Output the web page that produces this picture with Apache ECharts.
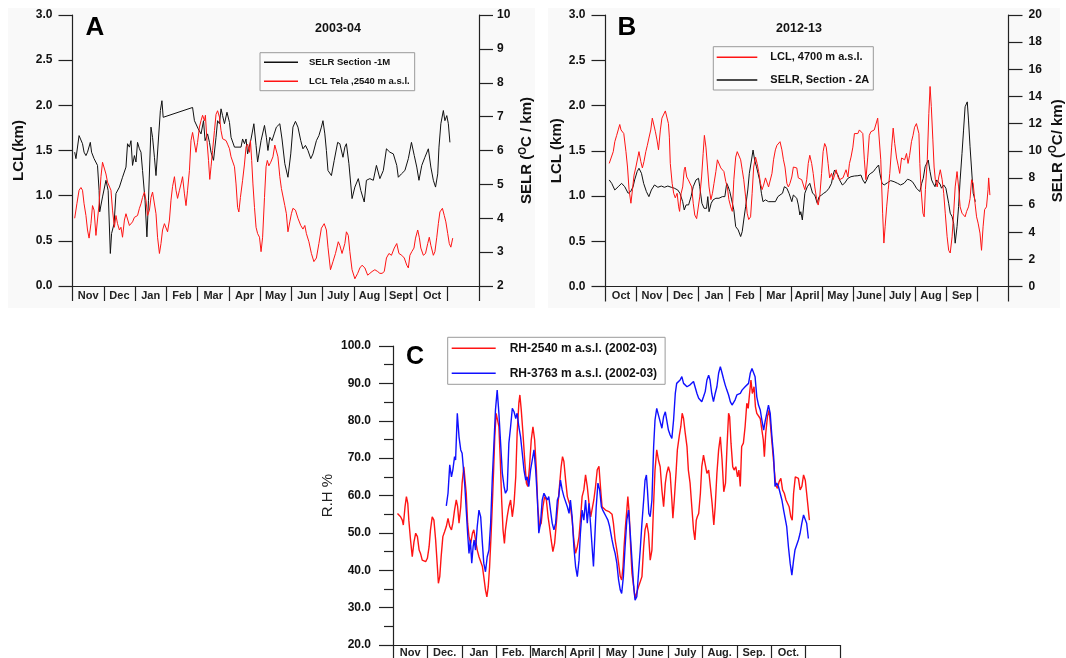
<!DOCTYPE html>
<html>
<head>
<meta charset="utf-8" />
<title>LCL / SELR / RH</title>
<script src="https://cdn.jsdelivr.net/npm/echarts/dist/echarts.min.js"></script>
<style>
  html, body { margin: 0; padding: 0; background: #ffffff; }
  #chart { width: 1066px; height: 658px; }
</style>
</head>
<body>
<div id="chart"></div>
<script>
// month labels for the three panels (last slot is empty)
const monthsA = ["Nov", "Dec", "Jan", "Feb", "Mar", "Apr", "May", "Jun", "July", "Aug", "Sept", "Oct", ""];
const monthsB = ["Oct", "Nov", "Dec", "Jan", "Feb", "Mar", "April", "May", "June", "July", "Aug", "Sep", ""];
const monthsC = ["Nov", "Dec.", "Jan", "Feb.", "March", "April", "May", "June", "July", "Aug.", "Sep.", "Oct.", ""];

// x = months since start of season, y = value
// panel A (2003-04): SELR in degC/km, LCL in km
const selrA = [[0.07,5.95],[0.11,5.76],[0.21,6.44],[0.32,6.20],[0.37,5.95],[0.43,5.85],[0.48,5.95],[0.57,6.24],[0.61,5.95],[0.69,5.76],[0.80,5.56],[0.85,4.82],[0.87,4.19],[0.96,4.63],[1.07,5.12],[1.14,4.82],[1.21,2.96],[1.25,3.55],[1.33,3.84],[1.39,4.73],[1.50,4.92],[1.60,5.21],[1.71,5.51],[1.76,6.20],[1.82,6.10],[1.87,6.29],[1.92,5.56],[1.98,5.85],[2.03,5.66],[2.08,6.24],[2.14,6.05],[2.19,5.95],[2.24,5.41],[2.32,4.53],[2.38,3.45],[2.43,4.53],[2.51,6.69],[2.56,6.39],[2.62,5.80],[2.67,5.26],[2.72,5.21],[2.81,7.18],[2.86,7.47],[2.90,6.98],[3.84,7.27],[3.90,6.88],[4.02,6.64],[4.11,6.49],[4.19,6.88],[4.24,6.29],[4.32,6.49],[4.38,6.24],[4.43,5.95],[4.51,5.71],[4.59,6.39],[4.64,6.88],[4.70,6.79],[4.75,7.23],[4.80,7.03],[4.86,6.79],[4.94,7.13],[5.02,6.83],[5.07,6.39],[5.18,6.10],[5.39,6.10],[5.44,6.34],[5.50,6.20],[5.55,6.34],[5.60,5.90],[5.71,6.34],[5.80,6.79],[5.87,6.15],[5.92,5.66],[6.03,6.29],[6.14,6.74],[6.20,6.39],[6.25,6.00],[6.31,6.39],[6.38,6.29],[6.45,6.49],[6.52,6.69],[6.63,6.79],[6.70,6.34],[6.79,5.61],[6.89,5.21],[6.98,5.90],[7.05,6.69],[7.13,6.86],[7.21,6.69],[7.30,6.29],[7.37,6.05],[7.45,6.15],[7.53,6.00],[7.62,5.76],[7.69,5.90],[7.80,6.29],[7.88,6.44],[7.96,6.69],[8.01,6.88],[8.07,6.49],[8.12,6.00],[8.17,5.41],[8.28,5.26],[8.37,5.71],[8.48,6.24],[8.55,6.20],[8.65,5.80],[8.71,6.10],[8.76,6.20],[8.84,5.61],[8.94,4.58],[9.03,4.92],[9.14,5.17],[9.22,4.82],[9.33,4.48],[9.40,5.12],[9.51,5.17],[9.62,5.12],[9.72,5.56],[9.83,5.17],[9.94,5.41],[10.04,6.05],[10.15,5.95],[10.26,5.90],[10.37,5.56],[10.42,5.21],[10.52,5.31],[10.63,5.41],[10.74,5.76],[10.84,6.24],[10.93,5.85],[11.01,5.51],[11.08,5.12],[11.17,5.56],[11.27,5.80],[11.38,6.05],[11.46,5.51],[11.54,5.12],[11.61,4.92],[11.68,5.31],[11.72,6.10],[11.78,6.79],[11.86,7.18],[11.91,6.88],[11.97,7.03],[12.02,6.79],[12.07,6.24]];
const lclA = [[0.07,0.75],[0.14,0.91],[0.21,1.06],[0.27,1.09],[0.32,1.06],[0.37,0.91],[0.43,0.78],[0.48,0.62],[0.53,0.53],[0.59,0.69],[0.64,0.89],[0.69,0.84],[0.75,0.56],[0.80,0.58],[0.85,0.91],[0.91,1.21],[0.96,1.37],[1.02,1.39],[1.07,1.24],[1.12,1.15],[1.18,1.17],[1.23,1.06],[1.28,0.84],[1.34,0.65],[1.39,0.78],[1.44,0.69],[1.50,0.62],[1.55,0.65],[1.60,0.54],[1.66,0.73],[1.71,0.80],[1.76,0.80],[1.82,0.67],[1.87,0.69],[1.92,0.71],[1.98,0.76],[2.03,0.76],[2.08,0.78],[2.14,0.86],[2.19,0.91],[2.24,0.98],[2.30,1.04],[2.35,0.95],[2.40,0.78],[2.46,0.84],[2.51,0.98],[2.56,1.04],[2.62,1.02],[2.67,0.80],[2.72,0.54],[2.78,0.36],[2.83,0.47],[2.88,0.62],[2.94,0.69],[2.99,0.67],[3.04,0.60],[3.10,0.73],[3.15,0.95],[3.20,1.10],[3.26,1.21],[3.31,1.06],[3.36,0.97],[3.42,1.06],[3.47,1.13],[3.52,1.21],[3.58,1.02],[3.63,0.89],[3.68,1.06],[3.74,1.28],[3.79,1.61],[3.84,1.70],[3.90,1.70],[3.95,1.48],[4.00,1.59],[4.06,1.76],[4.11,1.83],[4.16,1.89],[4.22,1.83],[4.25,1.89],[4.30,1.61],[4.35,1.39],[4.39,1.18],[4.43,1.32],[4.48,1.50],[4.54,1.72],[4.59,1.90],[4.64,1.94],[4.70,1.87],[4.75,1.72],[4.80,1.63],[4.86,1.63],[4.91,1.61],[4.96,1.57],[5.02,1.52],[5.07,1.43],[5.12,1.41],[5.18,1.32],[5.23,1.13],[5.28,0.87],[5.32,0.82],[5.37,0.98],[5.44,1.17],[5.50,1.35],[5.55,1.54],[5.60,1.57],[5.66,1.48],[5.69,1.61],[5.73,1.39],[5.77,1.13],[5.82,0.87],[5.87,0.65],[5.92,0.58],[5.98,0.54],[6.03,0.38],[6.08,0.54],[6.14,0.98],[6.19,1.32],[6.23,1.39],[6.28,1.33],[6.34,1.37],[6.41,1.43],[6.47,1.56],[6.52,1.57],[6.57,1.43],[6.63,1.21],[6.68,1.08],[6.73,1.06],[6.79,0.89],[6.84,0.80],[6.89,0.60],[6.95,0.71],[7.00,0.80],[7.05,0.86],[7.13,0.84],[7.21,0.75],[7.30,0.67],[7.37,0.63],[7.43,0.67],[7.48,0.58],[7.56,0.49],[7.64,0.36],[7.72,0.27],[7.80,0.31],[7.88,0.47],[7.96,0.64],[8.05,0.69],[8.12,0.62],[8.17,0.43],[8.25,0.18],[8.33,0.27],[8.41,0.36],[8.50,0.49],[8.55,0.45],[8.62,0.36],[8.71,0.47],[8.76,0.60],[8.82,0.56],[8.87,0.38],[8.94,0.18],[9.03,0.08],[9.12,0.14],[9.19,0.20],[9.26,0.23],[9.35,0.20],[9.44,0.12],[9.51,0.14],[9.58,0.16],[9.67,0.18],[9.76,0.16],[9.83,0.14],[9.90,0.14],[9.97,0.16],[10.04,0.31],[10.12,0.36],[10.20,0.34],[10.29,0.42],[10.37,0.47],[10.44,0.36],[10.53,0.34],[10.61,0.31],[10.69,0.23],[10.74,0.20],[10.79,0.34],[10.85,0.38],[10.92,0.42],[10.97,0.53],[11.04,0.62],[11.09,0.54],[11.14,0.42],[11.22,0.34],[11.29,0.36],[11.36,0.47],[11.41,0.54],[11.46,0.45],[11.54,0.34],[11.59,0.38],[11.65,0.54],[11.70,0.69],[11.75,0.82],[11.83,0.86],[11.89,0.78],[11.94,0.71],[12.00,0.58],[12.05,0.47],[12.10,0.43],[12.16,0.53]];

// panel B (2012-13)
const lclB = [[0.12,1.36],[0.18,1.42],[0.25,1.49],[0.30,1.60],[0.36,1.67],[0.41,1.73],[0.46,1.79],[0.50,1.73],[0.55,1.73],[0.59,1.69],[0.66,1.49],[0.71,1.32],[0.76,1.07],[0.82,0.92],[0.87,1.07],[0.92,1.23],[0.98,1.32],[1.03,1.32],[1.08,1.49],[1.14,1.38],[1.19,1.31],[1.24,1.38],[1.30,1.49],[1.35,1.56],[1.40,1.64],[1.46,1.73],[1.51,1.86],[1.55,1.88],[1.61,1.71],[1.66,1.62],[1.71,1.51],[1.77,1.73],[1.82,1.86],[1.87,1.88],[1.93,1.94],[1.98,1.93],[2.03,1.80],[2.06,1.65],[2.09,1.36],[2.15,1.14],[2.20,1.03],[2.25,0.98],[2.31,1.03],[2.36,0.88],[2.39,0.83],[2.44,1.03],[2.49,1.10],[2.54,1.29],[2.57,1.32],[2.62,1.21],[2.67,1.18],[2.72,1.20],[2.78,1.10],[2.83,0.92],[2.88,0.79],[2.94,0.75],[2.99,0.75],[3.04,0.99],[3.10,1.21],[3.15,1.47],[3.19,1.67],[3.24,1.54],[3.29,1.32],[3.34,1.10],[3.40,0.96],[3.45,1.03],[3.50,1.14],[3.56,1.27],[3.61,1.40],[3.66,1.42],[3.72,1.31],[3.77,1.32],[3.82,1.27],[3.88,1.16],[3.93,1.10],[3.98,0.96],[4.04,0.88],[4.09,0.83],[4.14,1.18],[4.20,1.43],[4.25,1.49],[4.30,1.49],[4.36,1.40],[4.41,1.29],[4.46,1.18],[4.52,0.99],[4.57,0.81],[4.62,0.74],[4.68,0.77],[4.73,1.03],[4.78,1.32],[4.84,1.43],[4.89,1.36],[4.94,1.27],[5.00,1.14],[5.05,1.07],[5.10,1.12],[5.16,1.20],[5.21,1.20],[5.26,1.10],[5.32,1.09],[5.37,1.25],[5.42,1.40],[5.48,1.51],[5.53,1.56],[5.58,1.56],[5.63,1.60],[5.69,1.51],[5.74,1.40],[5.79,1.32],[5.85,1.14],[5.90,1.10],[5.95,1.14],[6.01,1.21],[6.06,1.32],[6.11,1.34],[6.17,1.31],[6.22,1.20],[6.27,1.21],[6.33,1.18],[6.38,1.18],[6.43,1.07],[6.49,1.18],[6.54,1.36],[6.59,1.45],[6.65,1.36],[6.70,1.25],[6.75,1.10],[6.81,0.97],[6.86,0.90],[6.91,0.99],[6.97,1.25],[7.02,1.49],[7.07,1.58],[7.12,1.54],[7.18,1.36],[7.23,1.20],[7.29,1.25],[7.34,1.18],[7.39,1.23],[7.44,1.29],[7.50,1.21],[7.55,1.18],[7.60,1.16],[7.66,1.20],[7.71,1.21],[7.76,1.29],[7.82,1.21],[7.87,1.36],[7.92,1.43],[7.98,1.54],[8.03,1.69],[8.09,1.69],[8.14,1.69],[8.19,1.73],[8.24,1.75],[8.30,1.69],[8.35,1.40],[8.40,1.18],[8.46,1.43],[8.51,1.67],[8.56,1.71],[8.62,1.71],[8.67,1.73],[8.72,1.73],[8.78,1.86],[8.83,1.84],[8.88,1.40],[8.94,0.81],[8.98,0.48],[9.02,0.66],[9.07,0.88],[9.12,1.07],[9.17,1.25],[9.23,1.54],[9.28,1.75],[9.33,1.58],[9.39,1.42],[9.44,1.34],[9.49,1.25],[9.55,1.42],[9.60,1.43],[9.65,1.40],[9.71,1.47],[9.76,1.36],[9.81,1.45],[9.87,1.60],[9.92,1.67],[9.97,1.76],[10.03,1.80],[10.08,1.82],[10.11,1.69],[10.14,1.36],[10.18,1.07],[10.24,0.81],[10.28,0.77],[10.32,1.07],[10.38,1.40],[10.43,1.91],[10.47,2.21],[10.51,1.99],[10.56,1.62],[10.60,1.32],[10.64,1.18],[10.70,1.10],[10.75,1.21],[10.80,1.29],[10.86,1.18],[10.91,1.03],[10.96,0.81],[11.02,0.55],[11.07,0.40],[11.12,0.37],[11.18,0.55],[11.23,0.81],[11.28,1.10],[11.34,1.27],[11.39,1.10],[11.44,0.88],[11.50,0.81],[11.55,0.83],[11.60,0.77],[11.65,0.83],[11.71,0.88],[11.76,0.97],[11.81,1.18],[11.86,1.14],[11.92,0.92],[11.97,0.77],[12.02,0.70],[12.08,0.59],[12.13,0.40],[12.18,0.66],[12.23,0.85],[12.29,0.88],[12.34,1.07],[12.36,1.20],[12.40,1.01]];
const selrB = [[0.12,7.85],[0.20,7.60],[0.30,7.11],[0.41,7.35],[0.52,7.60],[0.62,7.35],[0.73,6.87],[0.81,6.99],[0.89,7.35],[0.94,7.85],[1.02,8.46],[1.08,8.71],[1.16,8.34],[1.23,7.60],[1.32,6.99],[1.40,6.62],[1.48,7.11],[1.58,7.48],[1.69,7.31],[1.80,7.40],[1.90,7.31],[2.01,7.40],[2.12,7.31],[2.22,7.24],[2.33,7.11],[2.40,6.87],[2.49,6.25],[2.54,5.64],[2.60,6.01],[2.68,6.01],[2.76,6.62],[2.83,7.35],[2.92,7.85],[3.00,7.97],[3.04,7.35],[3.11,6.13],[3.18,5.76],[3.26,5.76],[3.30,6.62],[3.34,5.51],[3.41,6.13],[3.47,6.38],[3.56,6.50],[3.66,6.50],[3.77,6.62],[3.85,6.62],[3.91,7.60],[3.96,7.35],[4.01,6.99],[4.07,6.38],[4.14,5.64],[4.20,4.41],[4.28,4.17],[4.36,3.68],[4.41,4.04],[4.46,4.90],[4.52,5.88],[4.59,7.11],[4.64,8.34],[4.71,9.32],[4.76,10.05],[4.81,9.32],[4.87,8.82],[4.92,8.34],[4.97,7.85],[5.03,6.87],[5.08,6.25],[5.16,6.38],[5.26,6.25],[5.37,6.25],[5.48,6.25],[5.56,6.62],[5.63,6.74],[5.71,6.87],[5.77,7.35],[5.85,7.24],[5.92,6.87],[6.01,6.25],[6.06,6.74],[6.11,6.87],[6.17,6.50],[6.22,6.01],[6.27,5.27],[6.30,5.51],[6.35,4.90],[6.43,6.87],[6.51,7.35],[6.59,7.60],[6.68,6.87],[6.75,6.74],[6.83,6.13],[6.89,6.62],[6.97,6.74],[7.04,6.87],[7.12,6.99],[7.21,7.24],[7.29,7.60],[7.34,8.21],[7.39,8.58],[7.44,8.71],[7.50,8.21],[7.55,7.85],[7.64,7.48],[7.71,7.60],[7.82,7.97],[7.92,8.09],[8.03,8.14],[8.14,8.16],[8.24,8.21],[8.30,7.85],[8.37,7.60],[8.43,7.85],[8.49,8.21],[8.56,8.34],[8.64,8.46],[8.72,8.71],[8.81,8.95],[8.85,8.34],[8.92,7.60],[8.99,7.48],[9.10,7.65],[9.20,7.80],[9.31,7.72],[9.42,7.60],[9.52,7.48],[9.58,7.35],[9.63,7.60],[9.74,7.90],[9.81,7.85],[9.90,7.72],[9.97,7.48],[10.03,7.24],[10.09,7.35],[10.14,6.99],[10.20,7.60],[10.25,7.97],[10.31,8.82],[10.36,8.95],[10.41,9.32],[10.47,8.46],[10.52,7.85],[10.57,7.60],[10.63,7.35],[10.68,7.85],[10.73,7.72],[10.79,7.55],[10.84,7.24],[10.91,7.48],[10.98,7.24],[11.03,7.35],[11.07,6.13],[11.12,5.40],[11.18,5.15],[11.23,4.66],[11.28,3.19],[11.34,4.41],[11.39,5.88],[11.44,7.85],[11.50,9.81],[11.55,11.52],[11.60,13.24],[11.67,13.60],[11.71,12.26],[11.76,10.29],[11.81,8.58],[11.86,6.87],[11.89,6.62],[11.93,6.25]];

// panel C (2002-03): relative humidity %
const rh2540 = [[0.13,55.2],[0.17,54.8],[0.22,54.3],[0.27,53.4],[0.30,52.1],[0.35,57.0],[0.39,59.7],[0.43,57.9],[0.46,53.4],[0.51,48.1],[0.56,43.6],[0.61,47.6],[0.66,49.9],[0.71,49.0],[0.76,45.4],[0.80,44.5],[0.85,42.7],[0.90,42.3],[0.95,42.3],[1.00,43.2],[1.05,46.3],[1.09,50.8],[1.14,54.3],[1.19,53.4],[1.24,48.1],[1.29,41.0],[1.32,36.5],[1.36,38.3],[1.40,43.6],[1.45,49.0],[1.50,50.3],[1.55,51.7],[1.60,53.9],[1.65,51.7],[1.70,50.8],[1.74,52.6],[1.79,56.1],[1.84,58.8],[1.88,57.0],[1.92,52.6],[1.97,57.0],[2.01,63.3],[2.06,67.7],[2.09,68.2],[2.13,60.6],[2.17,52.6],[2.21,49.0],[2.26,47.2],[2.31,49.9],[2.35,50.8],[2.40,48.1],[2.45,45.4],[2.50,43.6],[2.55,43.2],[2.60,41.0],[2.64,38.3],[2.69,34.7],[2.73,32.9],[2.77,35.6],[2.81,41.0],[2.85,49.0],[2.89,57.9],[2.93,67.7],[2.96,75.7],[3.00,82.0],[3.04,82.0],[3.08,78.4],[3.12,69.5],[3.16,58.8],[3.20,50.8],[3.24,47.2],[3.27,50.8],[3.32,54.3],[3.37,57.0],[3.42,58.8],[3.47,54.3],[3.52,57.9],[3.57,65.0],[3.61,76.6],[3.66,84.7],[3.69,86.9],[3.73,82.9],[3.78,76.6],[3.83,69.5],[3.88,63.3],[3.92,62.4],[3.97,67.7],[4.02,74.8],[4.07,78.4],[4.12,74.8],[4.17,66.8],[4.21,57.0],[4.26,51.7],[4.31,52.6],[4.36,57.0],[4.41,59.7],[4.46,58.8],[4.51,54.3],[4.55,51.7],[4.60,48.1],[4.65,45.0],[4.70,47.2],[4.75,52.6],[4.80,57.9],[4.84,62.4],[4.89,67.7],[4.93,70.4],[4.97,69.1],[5.02,64.1],[5.07,59.7],[5.12,59.7],[5.16,57.0],[5.21,53.4],[5.26,48.1],[5.31,44.5],[5.36,46.3],[5.41,49.0],[5.45,53.4],[5.50,59.7],[5.55,61.5],[5.60,65.5],[5.65,62.4],[5.70,57.9],[5.75,54.3],[5.79,54.3],[5.84,58.8],[5.89,62.4],[5.94,66.9],[5.99,67.8],[6.04,61.5],[6.08,57.0],[6.18,56.1],[6.28,55.7],[6.32,55.2],[6.37,55.0],[6.41,52.6],[6.46,48.1],[6.51,45.4],[6.56,41.9],[6.61,38.3],[6.65,37.4],[6.69,41.0],[6.72,46.3],[6.76,51.7],[6.80,56.1],[6.83,59.7],[6.87,55.2],[6.91,46.3],[6.95,39.2],[7.00,35.6],[7.04,32.5],[7.09,32.0],[7.14,35.6],[7.19,36.9],[7.24,38.3],[7.29,46.3],[7.33,50.8],[7.38,52.6],[7.43,49.9],[7.48,42.7],[7.53,45.4],[7.58,57.9],[7.62,66.8],[7.67,72.2],[7.72,69.5],[7.77,67.7],[7.82,61.5],[7.87,57.0],[7.92,63.3],[7.96,65.9],[8.01,67.7],[8.06,65.9],[8.11,58.8],[8.14,53.9],[8.18,58.8],[8.23,65.9],[8.27,72.2],[8.33,76.2],[8.37,78.4],[8.41,82.0],[8.45,80.6],[8.50,76.6],[8.55,73.1],[8.59,66.8],[8.64,63.3],[8.69,57.0],[8.74,50.8],[8.78,48.1],[8.82,53.4],[8.85,54.3],[8.89,55.2],[8.94,60.6],[8.98,67.7],[9.03,70.8],[9.08,70.4],[9.13,65.9],[9.18,66.8],[9.23,62.4],[9.28,57.9],[9.33,52.1],[9.37,57.0],[9.42,65.9],[9.47,72.2],[9.52,75.7],[9.57,69.5],[9.62,61.0],[9.67,63.3],[9.71,72.2],[9.76,82.0],[9.79,81.1],[9.83,74.0],[9.88,67.7],[9.92,66.8],[9.97,67.7],[10.02,65.0],[10.06,66.8],[10.10,62.4],[10.14,73.1],[10.19,74.0],[10.24,78.4],[10.29,84.7],[10.33,83.3],[10.37,87.3],[10.41,90.9],[10.45,87.3],[10.50,89.1],[10.54,83.8],[10.58,82.0],[10.63,82.4],[10.68,80.6],[10.72,80.2],[10.77,74.8],[10.80,70.4],[10.84,76.6],[10.89,81.1],[10.94,82.9],[10.99,77.5],[11.04,72.2],[11.09,66.8],[11.13,62.8],[11.18,61.9],[11.23,63.7],[11.28,64.6],[11.33,61.5],[11.38,60.6],[11.43,58.8],[11.47,58.8],[11.52,57.0],[11.57,54.3],[11.61,53.4],[11.65,60.6],[11.70,65.0],[11.74,65.5],[11.79,64.6],[11.84,61.5],[11.89,62.4],[11.94,65.5],[11.99,64.1],[12.03,60.6],[12.08,56.1],[12.11,53.4]];
const rh3763 = [[1.55,57.2],[1.60,60.6],[1.65,68.2],[1.70,65.0],[1.74,66.8],[1.79,70.4],[1.82,69.5],[1.87,82.0],[1.92,75.7],[1.97,72.2],[2.01,71.3],[2.06,65.9],[2.09,62.4],[2.13,56.1],[2.17,49.9],[2.21,44.5],[2.25,48.1],[2.29,41.9],[2.33,46.3],[2.36,48.1],[2.40,45.4],[2.45,51.7],[2.50,56.1],[2.55,54.3],[2.60,47.2],[2.64,41.9],[2.69,39.6],[2.74,43.6],[2.79,45.4],[2.84,52.6],[2.89,65.0],[2.94,74.8],[2.98,82.9],[3.03,88.2],[3.08,82.0],[3.13,73.9],[3.18,65.9],[3.23,62.4],[3.27,60.6],[3.32,61.5],[3.37,74.0],[3.42,78.4],[3.47,83.3],[3.52,82.4],[3.57,80.6],[3.61,82.0],[3.66,78.4],[3.71,75.7],[3.76,71.3],[3.81,66.8],[3.86,64.1],[3.90,65.0],[3.95,62.4],[4.00,66.8],[4.05,69.5],[4.10,72.2],[4.15,66.8],[4.20,58.8],[4.24,49.9],[4.29,52.6],[4.34,58.8],[4.39,60.6],[4.44,61.0],[4.49,58.8],[4.53,59.7],[4.58,56.1],[4.63,52.6],[4.68,50.8],[4.73,52.6],[4.78,58.8],[4.82,59.7],[4.87,64.1],[4.92,61.5],[4.97,59.7],[5.02,59.7],[5.07,57.0],[5.12,55.2],[5.16,58.8],[5.21,54.3],[5.26,46.3],[5.31,41.0],[5.36,38.3],[5.41,42.7],[5.45,49.9],[5.50,56.1],[5.55,53.4],[5.60,58.8],[5.65,52.6],[5.70,57.9],[5.75,51.7],[5.79,46.3],[5.83,41.0],[5.87,49.0],[5.91,57.0],[5.96,63.3],[6.01,61.5],[6.06,57.0],[6.10,56.1],[6.15,56.1],[6.20,54.3],[6.25,53.4],[6.30,51.7],[6.37,48.1],[6.41,46.3],[6.46,44.5],[6.51,41.9],[6.56,37.4],[6.61,34.7],[6.65,33.8],[6.70,38.3],[6.75,46.3],[6.80,53.4],[6.85,56.1],[6.90,49.9],[6.95,42.7],[7.00,35.6],[7.04,32.0],[7.09,32.9],[7.14,39.2],[7.19,45.4],[7.24,52.6],[7.29,58.8],[7.33,64.1],[7.37,65.5],[7.40,61.5],[7.44,55.2],[7.48,54.3],[7.53,58.8],[7.58,73.1],[7.62,80.2],[7.67,83.3],[7.72,81.5],[7.77,82.0],[7.82,78.0],[7.87,81.1],[7.92,82.4],[7.96,82.0],[8.01,77.5],[8.06,76.2],[8.11,75.3],[8.16,80.2],[8.21,87.3],[8.25,90.0],[8.30,90.5],[8.35,90.9],[8.40,91.8],[8.45,90.0],[8.50,89.6],[8.55,89.1],[8.59,88.7],[8.64,89.6],[8.69,90.0],[8.74,90.5],[8.79,90.0],[8.84,87.3],[8.89,86.0],[8.93,85.6],[8.98,85.1],[9.03,86.4],[9.08,87.8],[9.13,90.9],[9.18,92.2],[9.22,90.9],[9.27,87.3],[9.32,85.1],[9.37,87.3],[9.42,89.1],[9.47,92.7],[9.52,94.5],[9.56,93.1],[9.61,91.3],[9.66,89.6],[9.71,88.2],[9.76,86.9],[9.81,85.1],[9.86,84.2],[9.90,84.2],[9.95,85.6],[10.00,86.9],[10.05,86.4],[10.10,87.3],[10.15,88.2],[10.19,88.2],[10.24,89.1],[10.29,88.7],[10.34,90.0],[10.39,92.7],[10.44,94.0],[10.48,94.5],[10.53,91.8],[10.58,86.4],[10.63,84.2],[10.68,82.9],[10.72,80.6],[10.78,77.5],[10.82,79.7],[10.87,82.0],[10.92,84.2],[10.97,82.0],[11.02,75.7],[11.07,70.4],[11.11,62.4],[11.16,63.3],[11.21,62.4],[11.26,60.6],[11.31,58.8],[11.36,56.1],[11.41,55.7],[11.45,51.7],[11.50,46.3],[11.55,41.9],[11.60,38.7],[11.65,42.7],[11.69,45.4],[11.74,45.0],[11.79,48.1],[11.84,49.9],[11.89,52.6],[11.94,54.8],[11.99,54.3],[12.03,52.6],[12.08,48.5]];

const FONT = "Liberation Sans, Arial, sans-serif";
const RED = "#ff1414";
const BLACK = "#111111";
const BLUE = "#1010ff";

// hidden value axis carrying the data, month axis carrying labels
function dataX(grid) {
  return { type: "value", gridIndex: grid, min: 0, max: 13, show: false };
}
function monthX(grid, months, fs, margin, tickLen) {
  return {
    type: "category",
    gridIndex: grid,
    data: months,
    position: "bottom",
    boundaryGap: true,
    axisLine: { show: true, lineStyle: { color: "#222", width: 1.2 } },
    axisTick: { show: true, interval: 0, length: tickLen, lineStyle: { color: "#222", width: 1.2 } },
    axisLabel: { interval: 0, margin: margin, fontSize: fs, fontWeight: "bold", fontFamily: FONT, color: "#222" },
    splitLine: { show: false },
  };
}
function valY(grid, pos, min, max, step, decimals, name, gap, labelMargin, rich) {
  return {
    type: "value",
    gridIndex: grid,
    position: pos,
    min: min,
    max: max,
    interval: step,
    name: name,
    nameLocation: "middle",
    nameRotate: 90,
    nameGap: gap,
    nameTextStyle: rich,
    axisLine: { show: true, lineStyle: { color: "#222", width: 1.2 } },
    axisTick: { show: true, length: 14, lineStyle: { color: "#222", width: 1.2 } },
    axisLabel: {
      margin: labelMargin,
      fontSize: 12,
      fontWeight: "bold",
      fontFamily: FONT,
      color: "#111",
      showMinLabel: true,
      showMaxLabel: true,
      formatter: (v) => v.toFixed(decimals),
    },
    splitLine: { show: false },
  };
}

const nameBold = { fontSize: 15, fontWeight: "bold", fontFamily: FONT, color: "#111" };
const selrRich = {
  fontSize: 15, fontWeight: "bold", fontFamily: FONT, color: "#111",
  rich: {
    t: { fontSize: 15, fontWeight: "bold", fontFamily: FONT, color: "#111", lineHeight: 18 },
    s: { fontSize: 10, fontWeight: "bold", fontFamily: FONT, color: "#111", lineHeight: 18, verticalAlign: "top" },
  },
};

function line(name, data, xi, yi, color, w) {
  return {
    name: name,
    type: "line",
    xAxisIndex: xi,
    yAxisIndex: yi,
    data: data,
    symbol: "none",
    lineStyle: { color: color, width: w },
    itemStyle: { color: color },
  };
}

function legendBox(names, left, top, fs, lh, gap, iconW, textPad, pad, bg) {
  return {
    data: names,
    orient: "vertical",
    left: left,
    top: top,
    padding: pad,
    itemGap: gap,
    itemWidth: iconW,
    itemHeight: 1.5,
    icon: "rect",
    selectedMode: false,
    borderColor: "#9a9a9a",
    borderWidth: 1,
    backgroundColor: bg,
    textStyle: { fontSize: fs, lineHeight: lh, fontWeight: "bold", fontFamily: FONT, color: "#111", padding: [0, 0, 0, textPad] },
  };
}

const chart = echarts.init(document.getElementById("chart"));

const option = {
  animation: false,
  backgroundColor: "#ffffff",
  grid: [
    { left: 72.5, top: 15, width: 406.5, height: 271 },
    { left: 605.5, top: 15, width: 407, height: 271.5 },
    { left: 393, top: 346, width: 447, height: 299 },
  ],
  xAxis: [
    dataX(0), monthX(0, monthsA, 11, 4, 15),
    dataX(1), monthX(1, monthsB, 11, 4, 15),
    dataX(2), monthX(2, monthsC, 11, 2, 14),
  ],
  yAxis: [
    valY(0, "left", 0, 3, 0.5, 1, "LCL(km)", 46, 20, nameBold),
    valY(0, "right", 2, 10, 1, 0, "{t|SELR (}{s|O}{t|C / km)}", 39, 18, selrRich),
    valY(1, "left", 0, 3, 0.5, 1, "LCL (km)", 41, 20, nameBold),
    valY(1, "right", 0, 20, 2, 0, "{t|SELR (}{s|O}{t|C/ km)}", 40, 20, selrRich),
    Object.assign(valY(2, "left", 20, 100, 10, 1, "R.H %", 58, 22,
      { fontSize: 15, fontFamily: FONT, color: "#222" }),
      { minorTick: { show: true, splitNumber: 2, length: 9, lineStyle: { color: "#222", width: 1.2 } } }),
  ],
  legend: [
    legendBox(["SELR Section -1M", "LCL Tela ,2540 m a.s.l."], 260, 52.7, 9.5, 13, 6, 34, 6, [3, 5, 3, 4], "#fbfbfb"),
    legendBox(["LCL, 4700 m a.s.l.", "SELR, Section - 2A"], 713.3, 46.7, 11, 14, 8.7, 40.6, 8, [3.6, 4, 3, 3.4], "#fbfbfb"),
    legendBox(["RH-2540 m a.s.l. (2002-03)", "RH-3763 m a.s.l. (2002-03)"], 447.7, 337.3, 12, 15, 10, 44, 9, [3.5, 8, 3.5, 4], "#ffffff"),
  ],
  graphic: [
    // light backgrounds of the two upper panels
    { type: "rect", z: -10, shape: { x: 8, y: 8, width: 527, height: 300 }, style: { fill: "#f9f9f9" } },
    { type: "rect", z: -10, shape: { x: 548, y: 8, width: 512, height: 300 }, style: { fill: "#f9f9f9" } },
    { type: "text", x: 95, y: 28, style: { text: "A", font: "bold 26px " + FONT, fill: "#000", textAlign: "center", textVerticalAlign: "middle" } },
    { type: "text", x: 627, y: 28, style: { text: "B", font: "bold 26px " + FONT, fill: "#000", textAlign: "center", textVerticalAlign: "middle" } },
    { type: "text", x: 415, y: 357, style: { text: "C", font: "bold 25px " + FONT, fill: "#000", textAlign: "center", textVerticalAlign: "middle" } },
    { type: "text", x: 338, y: 29, style: { text: "2003-04", font: "bold 12.5px " + FONT, fill: "#111", textAlign: "center", textVerticalAlign: "middle" } },
    { type: "text", x: 799, y: 29, style: { text: "2012-13", font: "bold 12.5px " + FONT, fill: "#111", textAlign: "center", textVerticalAlign: "middle" } },
  ],
  series: [
    line("SELR Section -1M", selrA, 0, 1, BLACK, 1),
    line("LCL Tela ,2540 m a.s.l.", lclA, 0, 0, RED, 1),
    line("SELR, Section - 2A", selrB, 2, 3, BLACK, 1),
    line("LCL, 4700 m a.s.l.", lclB, 2, 2, RED, 1),
    line("RH-2540 m a.s.l. (2002-03)", rh2540, 4, 4, RED, 1.4),
    line("RH-3763 m a.s.l. (2002-03)", rh3763, 4, 4, BLUE, 1.4),
  ],
};

chart.setOption(option);
</script>
</body>
</html>
